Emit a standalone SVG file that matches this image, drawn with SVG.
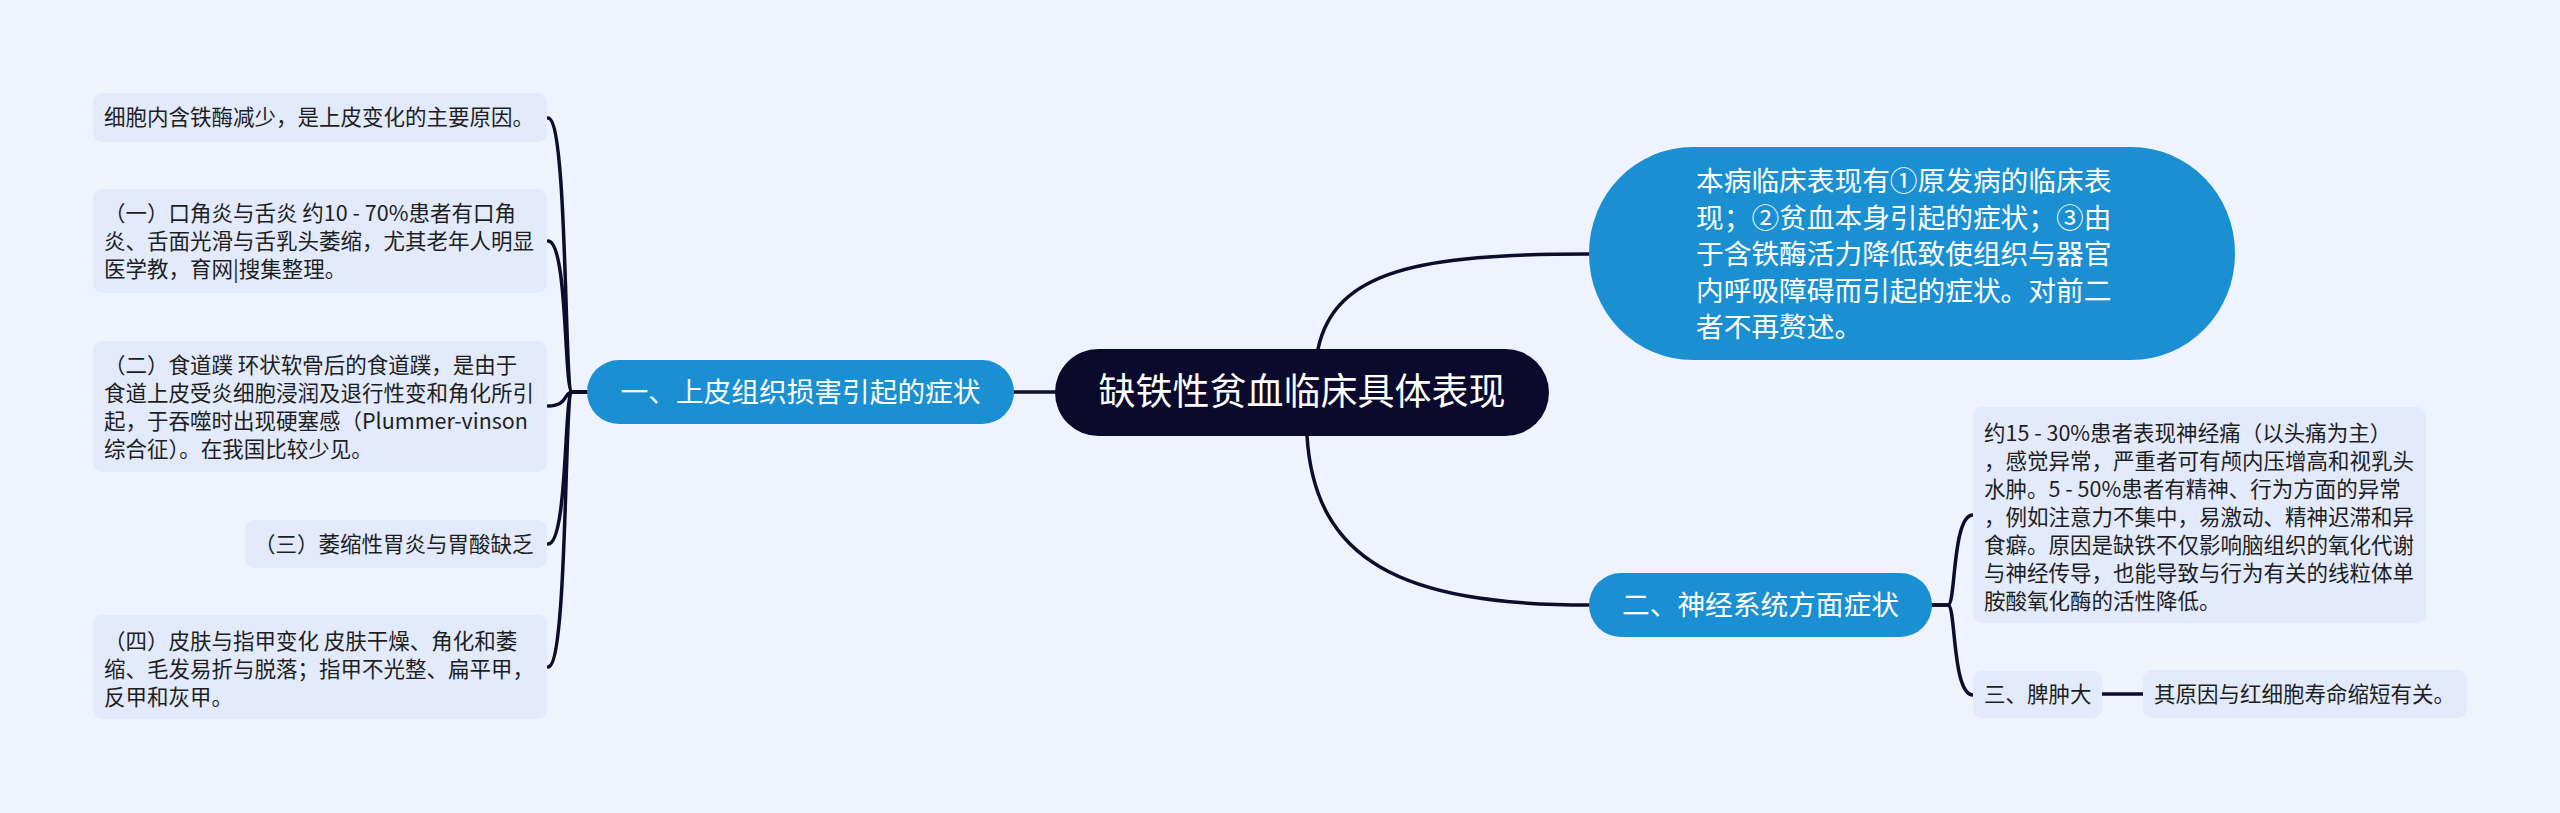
<svg xmlns="http://www.w3.org/2000/svg" width="2560" height="813" viewBox="0 0 2560 813">
<style>
text{font-family:"Noto Sans CJK SC","Noto Sans",sans-serif;}
.leaf rect{fill:#e2eafb;}
.leaf text{font-size:21.5px;fill:#1e1e1e;}
.branch rect{fill:#1a90d2;}
.branch text{font-size:27.7px;fill:#fff;}
.root rect{fill:#0c0a2c;}
.root text{font-size:37px;fill:#fff;}
.conn path{fill:none;stroke:#0e0b2b;stroke-width:3.5;stroke-linecap:round;}
</style>
<rect width="2560" height="813" fill="#eef3fd"/>
<g class="conn" id="connectors">
<path d="M1055 392 H1014"/>
<path d="M1318 349 C1335 270 1420 254 1589 254"/>
<path d="M1307 436 C1315 560 1400 605 1589 605"/>
<path d="M587 392 H572 C564 392 568 118 548 118"/>
<path d="M587 392 H572 C564 392 568 241 548 241"/>
<path d="M587 392 H572 C564 392 568 406 548 406"/>
<path d="M587 392 H572 C564 392 568 544 548 544"/>
<path d="M587 392 H572 C564 392 568 667 548 667"/>
<path d="M1932 605 H1948 C1956 605 1952 515 1973 515"/>
<path d="M1932 605 H1948 C1956 605 1952 695 1973 695"/>
<path d="M2102 694 H2143"/>
</g>
<g class="root" id="root">
<rect x="1055" y="349" width="494" height="87" rx="43.5"/>
<text x="1302" y="405" text-anchor="middle">缺铁性贫血临床具体表现</text>
</g>
<g class="branch" id="b1">
<rect x="587" y="360" width="427" height="64" rx="32"/>
<text x="800.5" y="402" text-anchor="middle">一、上皮组织损害引起的症状</text>
</g>
<g class="branch" id="b2">
<rect x="1589" y="573" width="343" height="64" rx="32"/>
<text x="1760.5" y="615" text-anchor="middle">二、神经系统方面症状</text>
</g>
<g class="branch" id="b0">
<rect x="1589" y="147" width="646" height="213" rx="104" ry="106"/>
<text x="1696" y="191">本病临床表现有①原发病的临床表</text>
<text x="1696" y="227.5">现；②贫血本身引起的症状；③由</text>
<text x="1696" y="264">于含铁酶活力降低致使组织与器官</text>
<text x="1696" y="300.5">内呼吸障碍而引起的症状。对前二</text>
<text x="1696" y="337">者不再赘述。</text>
</g>
<g class="leaf" id="l1">
<rect x="93" y="93" width="454" height="49" rx="9"/>
<text x="104" y="125">细胞内含铁酶减少，是上皮变化的主要原因。</text>
</g>
<g class="leaf" id="l2">
<rect x="93" y="189" width="454" height="104" rx="9"/>
<text x="104" y="221">（一）口角炎与舌炎 约10 - 70%患者有口角</text>
<text x="104" y="249">炎、舌面光滑与舌乳头萎缩，尤其老年人明显</text>
<text x="104" y="277">医学教，育网|搜集整理。</text>
</g>
<g class="leaf" id="l3">
<rect x="93" y="341" width="454" height="131" rx="9"/>
<text x="104" y="373">（二）食道蹼 环状软骨后的食道蹼，是由于</text>
<text x="104" y="401">食道上皮受炎细胞浸润及退行性变和角化所引</text>
<text x="104" y="429">起，于吞噬时出现硬塞感（Plummer-vinson</text>
<text x="104" y="457">综合征）。在我国比较少见。</text>
</g>
<g class="leaf" id="l4">
<rect x="245" y="520" width="302" height="48" rx="9"/>
<text x="254" y="552">（三）萎缩性胃炎与胃酸缺乏</text>
</g>
<g class="leaf" id="l5">
<rect x="93" y="615" width="454" height="104" rx="9"/>
<text x="104" y="649">（四）皮肤与指甲变化 皮肤干燥、角化和萎</text>
<text x="104" y="677">缩、毛发易折与脱落；指甲不光整、扁平甲，</text>
<text x="104" y="705">反甲和灰甲。</text>
</g>
<g class="leaf" id="r1">
<rect x="1973" y="407" width="453" height="216" rx="9"/>
<text x="1984" y="441">约15 - 30%患者表现神经痛（以头痛为主）</text>
<text x="1984" y="469">，感觉异常，严重者可有颅内压增高和视乳头</text>
<text x="1984" y="497">水肿。5 - 50%患者有精神、行为方面的异常</text>
<text x="1984" y="525">，例如注意力不集中，易激动、精神迟滞和异</text>
<text x="1984" y="553">食癖。原因是缺铁不仅影响脑组织的氧化代谢</text>
<text x="1984" y="581">与神经传导，也能导致与行为有关的线粒体单</text>
<text x="1984" y="609">胺酸氧化酶的活性降低。</text>
</g>
<g class="leaf" id="r2">
<rect x="1973" y="671" width="129" height="47" rx="9"/>
<text x="1984" y="702">三、脾肿大</text>
</g>
<g class="leaf" id="r3">
<rect x="2143" y="670" width="324" height="48" rx="9"/>
<text x="2154" y="702">其原因与红细胞寿命缩短有关。</text>
</g>
</svg>
